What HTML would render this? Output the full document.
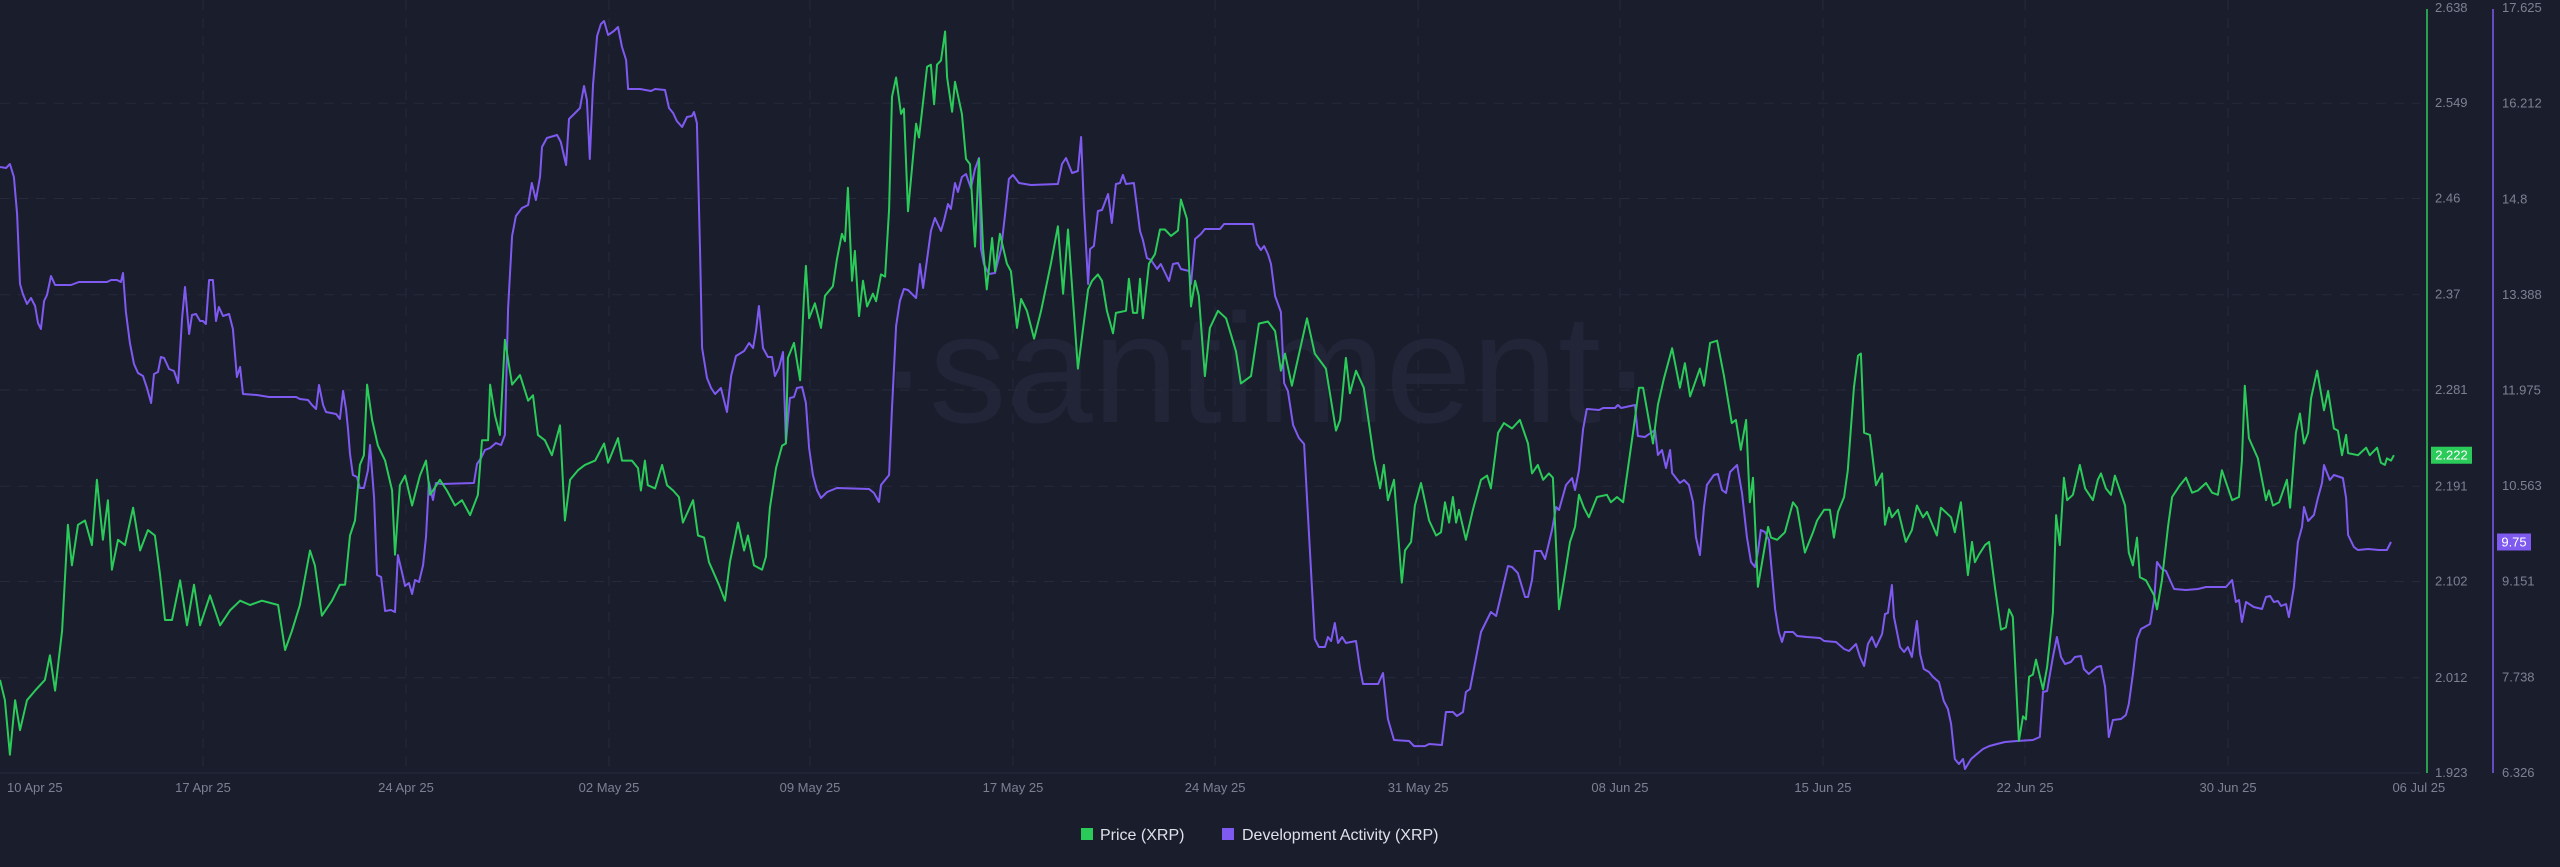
<!DOCTYPE html>
<html><head><meta charset="utf-8"><style>
html,body{margin:0;padding:0;background:#1a1d2c;}
body{width:2560px;height:867px;overflow:hidden;font-family:"Liberation Sans",sans-serif;}
svg{display:block;}
</style></head><body>
<svg id="chart" width="2560" height="867" xmlns="http://www.w3.org/2000/svg">
<rect x="0" y="0" width="2560" height="867" fill="#1a1d2c"/>
<text x="1265" y="422" text-anchor="middle" font-family="Liberation Sans, sans-serif" font-size="155" fill="#212537">·santiment·</text>
<g id="grid"></g>
<g id="xaxis"></g>
<g id="yaxisPrice"></g>
<g id="yaxisDev"></g>
<g id="series"></g>
<g>
  <g>
    <rect x="1081" y="828" width="12" height="12" fill="#2bcb5a"/>
    <text x="1100" y="840" font-size="16" fill="#dfe1ea">Price (XRP)</text>
  </g>
  <g>
    <rect x="1222" y="828" width="12" height="12" fill="#7f5af0"/>
    <text x="1242" y="840" font-size="16" fill="#dfe1ea">Development Activity (XRP)</text>
  </g>
</g>
</svg>
<script>
const dateLabels = ["10 Apr 25","17 Apr 25","24 Apr 25","02 May 25","09 May 25","17 May 25","24 May 25","31 May 25","08 Jun 25","15 Jun 25","22 Jun 25","30 Jun 25","06 Jul 25"];
const dateTicks = [1.2,7,14,21,27.93,34.93,41.9,48.9,55.86,62.86,69.83,76.83,83.41];
const priceTicks = [2.638,2.549,2.46,2.37,2.281,2.191,2.102,2.012,1.923];
const devTicks = [17.625,16.212,14.8,13.388,11.975,10.563,9.151,7.738,6.326];
const priceTime = [0,.17,.34,.52,.69,.93,1.21,1.55,1.72,1.90,2.14,2.34,2.48,2.69,2.93,3.17,3.34,3.55,3.72,3.86,4.07,4.31,4.59,4.83,5.10,5.34,5.52,5.69,5.93,6.21,6.45,6.69,6.90,7.24,7.59,7.93,8.28,8.62,9.03,9.59,9.83,10.07,10.34,10.69,10.86,11.10,11.45,11.72,11.90,12.07,12.24,12.41,12.55,12.66,12.83,13.03,13.28,13.52,13.62,13.79,13.97,14.21,14.48,14.69,14.83,15.17,15.41,15.69,15.93,16.21,16.48,16.62,16.83,16.90,17.07,17.24,17.41,17.66,17.93,18.21,18.38,18.55,18.79,19.03,19.31,19.48,19.66,19.93,20.17,20.52,20.83,20.97,21.31,21.45,21.79,22.00,22.10,22.24,22.34,22.59,22.83,23.00,23.21,23.41,23.55,23.90,24.07,24.28,24.45,24.79,25.00,25.17,25.45,25.66,25.79,26.00,26.28,26.41,26.55,26.76,26.97,27.10,27.17,27.38,27.59,27.72,27.79,27.90,28.10,28.31,28.45,28.72,28.86,29.03,29.14,29.24,29.38,29.48,29.62,29.76,29.90,30.10,30.21,30.38,30.52,30.66,30.76,30.90,31.07,31.17,31.31,31.59,31.69,31.97,32.10,32.21,32.31,32.45,32.59,32.66,32.83,32.93,33.17,33.31,33.45,33.62,33.76,33.90,34.03,34.21,34.31,34.48,34.72,34.86,35.07,35.21,35.41,35.66,35.90,36.24,36.48,36.66,36.83,37.17,37.52,37.66,37.86,38.00,38.17,38.38,38.48,38.83,38.93,39.07,39.21,39.31,39.41,39.62,39.83,40.00,40.17,40.38,40.62,40.72,40.93,41.07,41.21,41.34,41.55,41.72,42.00,42.28,42.62,42.79,43.14,43.41,43.72,43.97,44.17,44.31,44.55,45.07,45.34,45.72,46.07,46.21,46.41,46.55,46.76,47.03,47.38,47.59,47.72,47.86,48.07,48.34,48.45,48.66,48.79,49.00,49.28,49.52,49.69,49.83,49.97,50.10,50.21,50.31,50.55,50.79,51.07,51.28,51.41,51.66,51.86,52.14,52.41,52.69,52.83,53.03,53.21,53.41,53.55,53.76,53.93,54.14,54.31,54.45,54.62,54.79,55.07,55.41,55.55,55.76,55.97,56.31,56.52,56.66,57.00,57.17,57.38,57.66,57.93,58.10,58.28,58.62,58.76,58.97,59.21,59.45,59.72,59.86,60.03,60.21,60.34,60.45,60.62,60.97,61.07,61.28,61.55,61.83,61.97,62.24,62.52,62.66,62.90,63.10,63.24,63.38,63.59,63.72,63.93,64.07,64.17,64.28,64.48,64.69,64.90,65.00,65.14,65.24,65.45,65.72,65.93,66.10,66.31,66.45,66.79,66.93,67.28,67.41,67.62,67.86,68.00,68.10,68.24,68.45,68.59,68.79,69.00,69.17,69.28,69.41,69.62,69.76,69.86,69.97,70.10,70.21,70.45,70.59,70.79,70.90,71.03,71.17,71.28,71.48,71.72,71.90,72.17,72.34,72.45,72.62,72.79,72.93,73.28,73.41,73.55,73.69,73.79,74.00,74.28,74.38,74.55,74.76,74.90,75.17,75.38,75.59,75.79,76.07,76.28,76.48,76.62,76.97,77.21,77.31,77.41,77.55,77.86,78.14,78.24,78.38,78.59,78.86,78.97,79.17,79.31,79.45,79.59,79.69,79.90,80.14,80.28,80.48,80.62,80.76,80.90,80.97,81.31,81.59,81.72,81.97,82.10,82.24,82.31,82.45,82.55];
const priceValues = [2.010,1.991,1.940,1.991,1.963,1.991,2.000,2.010,2.033,2.000,2.056,2.155,2.117,2.155,2.159,2.136,2.197,2.141,2.178,2.113,2.141,2.136,2.171,2.131,2.150,2.145,2.108,2.066,2.066,2.103,2.061,2.099,2.061,2.089,2.061,2.075,2.084,2.080,2.084,2.080,2.038,2.056,2.080,2.131,2.117,2.070,2.084,2.099,2.099,2.145,2.159,2.211,2.220,2.286,2.253,2.229,2.215,2.187,2.127,2.192,2.201,2.173,2.201,2.215,2.183,2.197,2.187,2.173,2.178,2.164,2.183,2.234,2.234,2.286,2.257,2.239,2.328,2.286,2.295,2.271,2.276,2.239,2.234,2.220,2.248,2.159,2.197,2.206,2.211,2.215,2.231,2.213,2.236,2.215,2.215,2.208,2.187,2.215,2.192,2.189,2.211,2.192,2.187,2.181,2.157,2.178,2.145,2.143,2.120,2.099,2.084,2.120,2.157,2.131,2.145,2.117,2.113,2.125,2.171,2.208,2.229,2.231,2.311,2.325,2.290,2.367,2.397,2.348,2.362,2.339,2.369,2.378,2.403,2.427,2.420,2.470,2.383,2.411,2.350,2.383,2.359,2.371,2.364,2.389,2.387,2.450,2.555,2.573,2.539,2.544,2.448,2.530,2.517,2.583,2.585,2.548,2.585,2.589,2.616,2.573,2.541,2.569,2.539,2.497,2.492,2.415,2.497,2.413,2.375,2.423,2.392,2.427,2.399,2.392,2.339,2.366,2.355,2.329,2.355,2.399,2.434,2.371,2.431,2.301,2.375,2.383,2.389,2.383,2.355,2.334,2.353,2.355,2.385,2.353,2.353,2.385,2.348,2.399,2.408,2.431,2.431,2.425,2.430,2.459,2.441,2.359,2.383,2.369,2.294,2.339,2.355,2.348,2.317,2.287,2.294,2.343,2.345,2.336,2.299,2.315,2.285,2.348,2.315,2.301,2.243,2.253,2.311,2.278,2.299,2.283,2.217,2.189,2.211,2.178,2.197,2.101,2.131,2.139,2.173,2.194,2.159,2.145,2.148,2.176,2.157,2.181,2.157,2.169,2.141,2.169,2.197,2.201,2.189,2.241,2.250,2.245,2.253,2.231,2.203,2.211,2.197,2.203,2.199,2.076,2.103,2.139,2.153,2.183,2.171,2.162,2.181,2.183,2.176,2.181,2.176,2.241,2.283,2.283,2.231,2.267,2.292,2.320,2.283,2.306,2.275,2.301,2.285,2.325,2.327,2.294,2.250,2.253,2.225,2.253,2.176,2.199,2.097,2.153,2.143,2.141,2.148,2.176,2.171,2.129,2.148,2.159,2.169,2.169,2.143,2.167,2.181,2.206,2.283,2.313,2.315,2.241,2.239,2.192,2.203,2.155,2.171,2.162,2.169,2.139,2.150,2.173,2.162,2.167,2.145,2.171,2.162,2.148,2.176,2.108,2.139,2.120,2.127,2.136,2.139,2.097,2.057,2.059,2.076,2.069,1.953,1.976,1.973,2.013,2.015,2.029,2.001,2.022,2.073,2.164,2.136,2.199,2.178,2.183,2.211,2.189,2.178,2.197,2.203,2.189,2.183,2.201,2.173,2.129,2.117,2.143,2.106,2.103,2.089,2.076,2.103,2.153,2.181,2.192,2.199,2.185,2.187,2.194,2.185,2.183,2.206,2.178,2.181,2.215,2.285,2.236,2.217,2.178,2.187,2.173,2.176,2.197,2.171,2.241,2.259,2.231,2.241,2.273,2.299,2.262,2.280,2.245,2.243,2.220,2.239,2.222,2.220,2.227,2.220,2.227,2.213,2.211,2.217,2.215,2.220];
const devTime = [0,.21,.34,.48,.59,.69,.79,.93,1.07,1.21,1.31,1.41,1.52,1.62,1.76,1.90,2.45,2.72,3.69,3.83,4.03,4.17,4.24,4.34,4.48,4.62,4.76,4.93,5.07,5.21,5.31,5.45,5.55,5.66,5.83,6.00,6.14,6.28,6.38,6.52,6.62,6.76,6.90,7.00,7.10,7.21,7.34,7.45,7.55,7.69,7.90,8.03,8.17,8.28,8.38,8.86,9.28,10.21,10.34,10.62,10.76,10.90,11.00,11.14,11.24,11.59,11.72,11.83,11.93,12.00,12.07,12.17,12.31,12.41,12.55,12.69,12.76,12.90,13.00,13.14,13.28,13.48,13.62,13.72,13.86,13.97,14.10,14.21,14.31,14.45,14.59,14.69,14.79,14.93,15.03,15.21,16.34,16.45,16.59,16.72,16.90,17.10,17.28,17.41,17.52,17.66,17.79,18.00,18.21,18.34,18.48,18.62,18.69,18.86,19.21,19.34,19.52,19.62,19.83,20.00,20.14,20.24,20.34,20.45,20.59,20.72,20.83,20.97,21.17,21.31,21.45,21.59,21.66,22.07,22.45,22.59,22.93,23.07,23.21,23.34,23.52,23.69,23.86,23.93,24.03,24.14,24.21,24.38,24.52,24.66,24.86,25.07,25.21,25.38,25.66,25.83,25.97,26.07,26.17,26.31,26.48,26.62,26.72,26.86,27.00,27.10,27.24,27.38,27.48,27.66,27.79,27.90,28.03,28.17,28.31,28.52,28.86,29.97,30.14,30.31,30.38,30.66,30.76,30.90,31.03,31.17,31.31,31.45,31.59,31.72,31.83,31.97,32.10,32.24,32.45,32.55,32.69,32.79,32.93,33.03,33.17,33.31,33.48,33.62,33.76,33.83,33.93,34.10,34.31,34.52,34.66,34.79,34.93,35.14,35.55,36.48,36.62,36.76,36.97,37.17,37.28,37.38,37.52,37.59,37.72,37.86,38.00,38.21,38.34,38.48,38.62,38.72,38.83,39.10,39.31,39.41,39.55,39.69,39.90,40.03,40.31,40.45,40.62,40.72,41.00,41.07,41.21,41.41,41.55,42.07,42.21,43.21,43.34,43.48,43.59,43.72,43.83,43.97,44.17,44.28,44.41,44.59,44.79,44.97,45.07,45.34,45.48,45.69,45.79,45.90,46.03,46.14,46.28,46.41,46.76,46.90,47.00,47.52,47.69,47.86,48.07,48.59,48.76,49.14,49.28,49.72,49.86,50.10,50.24,50.45,50.55,50.69,51.07,51.41,51.59,52.00,52.14,52.34,52.59,52.69,52.83,52.93,53.14,53.28,53.52,53.66,53.76,54.00,54.21,54.31,54.45,54.59,54.72,55.14,55.28,55.69,55.79,55.90,56.38,56.48,56.72,57.07,57.17,57.31,57.45,57.59,57.66,57.93,58.07,58.24,58.38,58.48,58.62,58.76,58.86,59.10,59.24,59.38,59.52,59.66,59.90,60.07,60.24,60.38,60.52,60.62,60.72,60.86,61.00,61.21,61.34,61.45,61.55,61.83,61.97,62.31,62.76,62.90,63.31,63.59,63.76,64.00,64.14,64.28,64.41,64.55,64.69,64.90,65.00,65.10,65.24,65.31,65.52,65.66,65.79,65.93,66.10,66.21,66.34,66.52,66.66,66.86,67.03,67.17,67.28,67.41,67.55,67.69,67.76,67.97,68.17,68.38,68.59,68.86,69.14,69.55,70.10,70.34,70.45,70.59,70.79,70.93,71.07,71.21,71.41,71.55,71.76,71.86,72.03,72.31,72.45,72.59,72.72,72.86,73.14,73.31,73.41,73.55,73.69,73.83,74.14,74.28,74.38,74.55,74.69,74.83,74.97,75.38,75.79,76.07,76.76,76.97,77.10,77.21,77.31,77.45,77.72,78.00,78.14,78.28,78.41,78.55,78.66,78.83,78.93,79.10,79.24,79.38,79.45,79.59,79.79,79.93,80.07,80.14,80.34,80.48,80.79,80.90,80.97,81.17,81.31,81.66,82.03,82.31,82.45];
const devValues = [15.276,15.262,15.321,15.129,14.582,13.548,13.401,13.253,13.342,13.223,12.972,12.884,13.297,13.386,13.667,13.534,13.534,13.578,13.578,13.607,13.607,13.578,13.711,13.135,12.677,12.367,12.234,12.190,12.012,11.791,12.219,12.249,12.470,12.455,12.293,12.263,12.086,13.046,13.504,12.810,13.090,13.105,13.002,13.002,12.958,13.607,13.607,13.002,13.209,13.076,13.105,12.884,12.175,12.322,11.924,11.909,11.879,11.879,11.850,11.835,11.761,11.702,12.057,11.761,11.658,11.628,11.554,11.968,11.702,11.407,11.037,10.727,10.698,10.535,10.535,10.801,11.170,10.388,9.250,9.221,8.719,8.733,8.704,9.546,9.295,9.088,9.132,8.970,9.177,9.147,9.398,9.812,10.624,10.358,10.609,10.594,10.609,10.890,10.978,11.097,11.126,11.200,11.170,11.318,13.194,14.257,14.553,14.671,14.715,15.040,14.789,15.129,15.572,15.705,15.749,15.646,15.306,15.985,16.074,16.148,16.473,16.266,15.395,16.488,17.211,17.389,17.433,17.226,17.285,17.344,17.049,16.857,16.428,16.428,16.399,16.428,16.414,16.148,16.074,15.956,15.867,16.015,16.030,16.089,15.926,14.065,12.603,12.160,12.012,11.924,12.012,11.658,12.190,12.485,12.559,12.677,12.603,12.854,13.223,12.603,12.470,12.470,12.190,12.308,12.544,11.200,11.865,11.879,12.012,12.027,11.791,11.126,10.727,10.506,10.388,10.476,10.535,10.521,10.462,10.328,10.580,10.727,11.717,12.928,13.297,13.474,13.460,13.401,13.342,13.844,13.489,13.918,14.331,14.523,14.331,14.479,14.730,14.656,15.040,14.907,15.129,15.173,14.966,15.247,15.409,14.065,13.844,13.696,13.711,14.065,14.582,15.099,15.158,15.040,15.011,15.025,15.321,15.409,15.188,15.217,15.720,14.656,13.548,14.065,14.110,14.627,14.641,14.878,14.449,15.025,15.040,15.158,15.025,15.040,14.331,14.198,13.932,13.903,13.770,13.844,13.593,13.844,13.859,13.770,13.740,13.548,14.213,14.287,14.361,14.361,14.435,14.435,14.139,14.050,14.110,13.991,13.844,13.371,13.135,12.086,11.968,11.466,11.274,11.185,10.388,8.305,8.187,8.187,8.335,8.276,8.541,8.246,8.335,8.246,8.276,7.862,7.640,7.640,7.803,7.123,6.813,6.798,6.724,6.724,6.754,6.739,7.227,7.227,7.168,7.227,7.522,7.566,8.408,8.704,8.645,9.383,9.369,9.280,8.925,8.925,9.177,9.605,9.605,9.487,9.915,10.255,10.210,10.580,10.683,10.506,10.801,11.407,11.702,11.687,11.717,11.717,11.761,11.717,11.761,11.303,11.289,11.392,11.023,11.097,10.831,11.097,10.757,10.609,10.653,10.580,10.328,9.812,9.546,10.255,10.580,10.727,10.742,10.506,10.462,10.772,10.875,10.462,9.812,9.442,9.369,9.590,9.915,9.885,9.767,8.748,8.408,8.261,8.408,8.408,8.349,8.335,8.320,8.276,8.261,8.157,8.128,8.231,8.039,7.906,8.231,8.335,8.187,8.379,8.674,8.689,9.103,8.630,8.187,8.113,8.187,8.039,8.571,8.083,7.862,7.818,7.744,7.670,7.389,7.271,7.050,6.533,6.459,6.533,6.385,6.533,6.606,6.680,6.724,6.754,6.784,6.798,6.813,6.858,7.522,7.537,8.039,8.335,8.039,7.936,7.965,8.039,8.054,7.862,7.788,7.892,7.906,7.596,6.858,7.109,7.123,7.183,7.345,7.788,8.305,8.453,8.527,8.881,9.442,9.339,9.309,9.177,9.043,9.029,9.043,9.073,9.073,9.177,8.852,8.881,8.556,8.852,8.778,8.748,8.925,8.940,8.852,8.866,8.793,8.822,8.630,9.073,9.738,9.959,10.255,10.048,10.136,10.388,10.609,10.875,10.653,10.727,10.683,10.388,9.841,9.664,9.620,9.634,9.620,9.620,9.738];
const lastPrice = "2.222";
const lastDev = "9.75";

const NS = "http://www.w3.org/2000/svg";
const PLOT_LEFT = 0, PLOT_RIGHT = 2420, PLOT_TOP = 8, PLOT_BOTTOM = 773;
const X_DAYS = 83.45;
function xScale(t){ return PLOT_LEFT + t / X_DAYS * (PLOT_RIGHT - PLOT_LEFT); }
function yPrice(v){ return PLOT_TOP + (2.638 - v) / (2.638 - 1.923) * (PLOT_BOTTOM - PLOT_TOP); }
function yDev(v){ return PLOT_TOP + (17.625 - v) / (17.625 - 6.326) * (PLOT_BOTTOM - PLOT_TOP); }
function mk(tag, attrs, parent){
  const el = document.createElementNS(NS, tag);
  for (const k in attrs) el.setAttribute(k, attrs[k]);
  parent.appendChild(el);
  return el;
}
const grid = document.getElementById('grid');
const xaxis = document.getElementById('xaxis');
const yP = document.getElementById('yaxisPrice');
const yD = document.getElementById('yaxisDev');
const series = document.getElementById('series');

priceTicks.forEach((v, i) => {
  const y = yPrice(v);
  if (i > 0 && i < priceTicks.length - 1) {
    const gl = mk('line', {x1: 0, x2: PLOT_RIGHT, y1: y, y2: y, stroke: '#262a3b', 'stroke-width': 1, 'stroke-dasharray': '10 8'}, grid);
    
    
  }
  const t = mk('text', {x: 2435, y: y + 4, 'font-size': 13, fill: '#7c8192'}, yP);
  t.textContent = String(v);
  
  
});
devTicks.forEach((v) => {
  const y = yDev(v);
  const t = mk('text', {x: 2502, y: y + 4, 'font-size': 13, fill: '#7c8192'}, yD);
  t.textContent = String(v);
  
  
});
dateTicks.forEach((d, i) => {
  const x = xScale(d);
  if (i > 0 && i < dateTicks.length - 1) {
    const gl = mk('line', {x1: x, x2: x, y1: 0, y2: PLOT_BOTTOM, stroke: '#262a3b', 'stroke-width': 1, 'stroke-dasharray': '10 8'}, grid);
    
    
  }
  const t = mk('text', {x: x, y: 792, 'font-size': 13, fill: '#7c8192', 'text-anchor': 'middle'}, xaxis);
  t.textContent = dateLabels[i];
  
  
});
const base = mk('line', {x1: 0, x2: PLOT_RIGHT, y1: PLOT_BOTTOM, y2: PLOT_BOTTOM, stroke: '#262a3b', 'stroke-width': 1}, xaxis);


const gAx = mk('line', {x1: 2427, x2: 2427, y1: 9, y2: PLOT_BOTTOM, stroke: '#2bcb5a', 'stroke-width': 1.5}, yP);


const pAx = mk('line', {x1: 2493, x2: 2493, y1: 9, y2: PLOT_BOTTOM, stroke: '#7f5af0', 'stroke-width': 1.5}, yD);



function drawLine(times, vals, yfn, color, name){
  let d = '';
  for (let i = 0; i < times.length; i++) {
    d += (i ? 'L' : 'M') + xScale(times[i]).toFixed(1) + ',' + yfn(vals[i]).toFixed(1);
  }
  const p = mk('path', {d: d, fill: 'none', stroke: color, 'stroke-width': 2, 'stroke-linejoin': 'round'}, series);
  
  
}
drawLine(devTime, devValues, yDev, '#7f5af0', 'dev-activity-line');
drawLine(priceTime, priceValues, yPrice, '#2bcb5a', 'price-line');

const py = yPrice(priceValues[priceValues.length - 1]);
const pr = mk('rect', {x: 2431, y: py - 8.5, width: 41, height: 17, fill: '#2bcb5a'}, yP);


const pt = mk('text', {x: 2451.5, y: py + 4.5, 'font-size': 13, fill: '#ffffff', 'text-anchor': 'middle'}, yP);
pt.textContent = lastPrice;


const dy = yDev(devValues[devValues.length - 1]);
const dr = mk('rect', {x: 2497, y: dy - 8.5, width: 34, height: 17, fill: '#7f5af0'}, yD);


const dt = mk('text', {x: 2514, y: dy + 4.5, 'font-size': 13, fill: '#ffffff', 'text-anchor': 'middle'}, yD);
dt.textContent = lastDev;


</script>
</body></html>
